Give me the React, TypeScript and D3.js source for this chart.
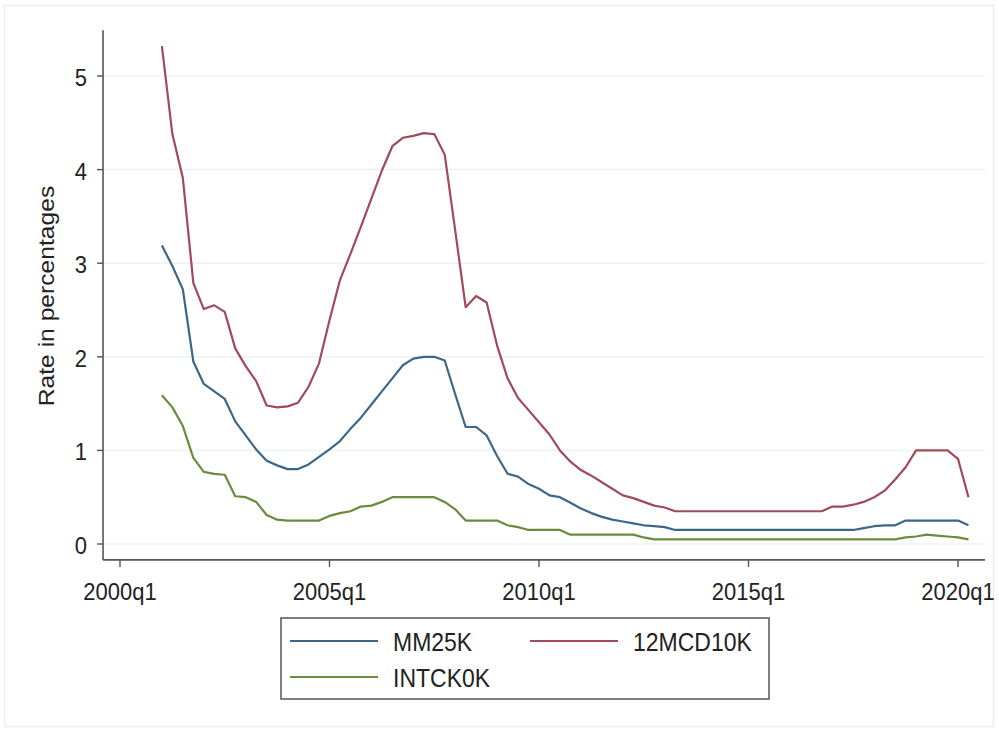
import * as d3 from 'd3';

// quarters, 2001q1 .. 2020q2 (index 0 = 2000q1)
const startQuarter = 4;

const mm25k = [
  3.19, 2.97, 2.72, 1.95, 1.71, 1.63, 1.55, 1.31, 1.16, 1.01,
  0.89, 0.84, 0.80, 0.80, 0.85, 0.93, 1.01, 1.10, 1.23, 1.35,
  1.49, 1.63, 1.77, 1.91, 1.98, 2.00, 2.00, 1.96, 1.60, 1.25,
  1.25, 1.16, 0.94, 0.75, 0.72, 0.64, 0.59, 0.52, 0.50, 0.44,
  0.38, 0.33, 0.29, 0.26, 0.24, 0.22, 0.20, 0.19, 0.18, 0.15,
  0.15, 0.15, 0.15, 0.15, 0.15, 0.15, 0.15, 0.15, 0.15, 0.15,
  0.15, 0.15, 0.15, 0.15, 0.15, 0.15, 0.15, 0.17, 0.19, 0.20,
  0.20, 0.25, 0.25, 0.25, 0.25, 0.25, 0.25, 0.20,
];

const mcd10k = [
  5.32, 4.38, 3.91, 2.79, 2.51, 2.55, 2.48, 2.09, 1.90, 1.74,
  1.48, 1.46, 1.47, 1.51, 1.68, 1.93, 2.39, 2.82, 3.10, 3.39,
  3.69, 3.99, 4.25, 4.34, 4.36, 4.39, 4.38, 4.16, 3.35, 2.53,
  2.65, 2.58, 2.12, 1.77, 1.56, 1.43, 1.30, 1.17, 1.00, 0.88,
  0.79, 0.73, 0.66, 0.59, 0.52, 0.49, 0.45, 0.41, 0.39, 0.35,
  0.35, 0.35, 0.35, 0.35, 0.35, 0.35, 0.35, 0.35, 0.35, 0.35,
  0.35, 0.35, 0.35, 0.35, 0.40, 0.40, 0.42, 0.45, 0.50, 0.57,
  0.69, 0.82, 1.00, 1.00, 1.00, 1.00, 0.91, 0.50,
];

const intck0k = [
  1.59, 1.46, 1.26, 0.92, 0.77, 0.75, 0.74, 0.51, 0.50, 0.45,
  0.31, 0.26, 0.25, 0.25, 0.25, 0.25, 0.30, 0.33, 0.35, 0.40,
  0.41, 0.45, 0.50, 0.50, 0.50, 0.50, 0.50, 0.45, 0.37, 0.25,
  0.25, 0.25, 0.25, 0.20, 0.18, 0.15, 0.15, 0.15, 0.15, 0.10,
  0.10, 0.10, 0.10, 0.10, 0.10, 0.10, 0.07, 0.05, 0.05, 0.05,
  0.05, 0.05, 0.05, 0.05, 0.05, 0.05, 0.05, 0.05, 0.05, 0.05,
  0.05, 0.05, 0.05, 0.05, 0.05, 0.05, 0.05, 0.05, 0.05, 0.05,
  0.05, 0.07, 0.08, 0.10, 0.09, 0.08, 0.07, 0.05,
];

const xTickQuarters = [0, 20, 40, 60, 80];
const xTickLabels = ['2000q1', '2005q1', '2010q1', '2015q1', '2020q1'];
const yTicks = [0, 1, 2, 3, 4, 5];

const series = [
  { name: 'MM25K', values: mm25k, color: '#3d6789' },
  { name: '12MCD10K', values: mcd10k, color: '#a14a59' },
  { name: 'INTCK0K', values: intck0k, color: '#6b8b3d' },
];

const W = 999;
const H = 732;
const FONT = '"Liberation Sans", Arial, Helvetica, sans-serif';
const SY = 1.12; // vertical stretch of the text in the reference

export default function App() {
  const x = d3.scaleLinear().domain([0, 80]).range([120, 958]);
  const y = d3.scaleLinear().domain([0, 5]).range([544, 76]);

  const plotLeft = x(-1.62);
  const plotRight = x(82.58);
  const plotTop = y(5.49);
  const plotBottom = y(-0.17);

  const line = d3
    .line<number>()
    .x((_, i) => x(startQuarter + i))
    .y((d) => y(d));

  const legend = { x: 281, y: 618, w: 488, h: 81 };
  const legendItems = [
    { s: series[0], lx: 290, ly: 641 },
    { s: series[1], lx: 530, ly: 641 },
    { s: series[2], lx: 290, ly: 677 },
  ];

  return (
    <div style={{ position: 'absolute', left: 0, top: 0 }}>
      <svg width={W} height={H} style={{ display: 'block', background: '#fff' }} fontFamily={FONT}>
        <rect x={4.5} y={5.5} width={989} height={721} fill="none" stroke="#e9eeee" strokeWidth={1.5} />

        {/* grid */}
        {yTicks.map((t) => (
          <line key={'g' + t} x1={plotLeft} x2={plotRight} y1={y(t)} y2={y(t)} stroke="#edf2f2" strokeWidth={1.5} />
        ))}

        {/* series */}
        {series.map((s) => (
          <path key={s.name} d={line(s.values) || ''} fill="none" stroke={s.color} strokeWidth={2.2} strokeLinejoin="round" />
        ))}

        {/* y axis */}
        <line x1={plotLeft} x2={plotLeft} y1={plotTop} y2={plotBottom} stroke="#555" strokeWidth={1.6} />
        {yTicks.map((t) => (
          <g key={'y' + t}>
            <line x1={plotLeft - 6} x2={plotLeft} y1={y(t)} y2={y(t)} stroke="#555" strokeWidth={1.4} />
            <g transform={`translate(${plotLeft - 16},${y(t) + 10}) scale(1,${SY})`}>
              <text textAnchor="end" fontSize={22} fill="#222">{t}</text>
            </g>
          </g>
        ))}
        <g transform={`translate(54,296) scale(1,${SY}) rotate(-90)`}>
          <text textAnchor="middle" fontSize={22} fill="#222">Rate in percentages</text>
        </g>

        {/* x axis */}
        <line x1={plotLeft} x2={plotRight} y1={plotBottom} y2={plotBottom} stroke="#555" strokeWidth={1.6} />
        {xTickQuarters.map((q, i) => (
          <g key={'x' + q}>
            <line x1={x(q)} x2={x(q)} y1={plotBottom} y2={plotBottom + 7} stroke="#555" strokeWidth={1.4} />
            <g transform={`translate(${x(q)},${plotBottom + 40}) scale(1,${SY})`}>
              <text textAnchor="middle" fontSize={22} fill="#222">{xTickLabels[i]}</text>
            </g>
          </g>
        ))}

        {/* legend */}
        <rect x={legend.x} y={legend.y} width={legend.w} height={legend.h} fill="#fff" stroke="#555" strokeWidth={1.5} />
        {legendItems.map(({ s, lx, ly }) => (
          <g key={'l' + s.name}>
            <line x1={lx} x2={lx + 88} y1={ly} y2={ly} stroke={s.color} strokeWidth={2.2} />
            <g transform={`translate(${lx + 103},${ly + 10}) scale(1,${SY})`}>
              <text fontSize={23} fill="#222">{s.name}</text>
            </g>
          </g>
        ))}
      </svg>
    </div>
  );
}
